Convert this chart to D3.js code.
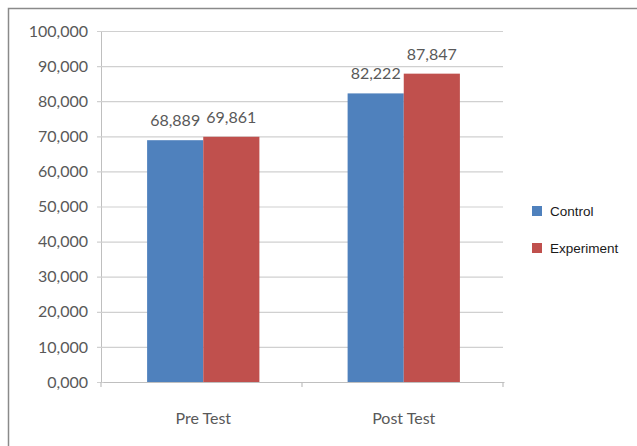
<!DOCTYPE html>
<html>
<head>
<meta charset="utf-8">
<script src="https://cdn.jsdelivr.net/npm/d3@7"></script>
<style>
  html, body { margin: 0; padding: 0; background: #fff; }
  svg { display: block; }
</style>
</head>
<body>
<svg id="chart" width="637" height="446"></svg>
<script>
// Test phases and group scores
const categories = ["Pre Test", "Post Test"];
const seriesNames = ["Control", "Experiment"];
const controlValues = [68.889, 82.222];
const experimentValues = [69.861, 87.847];
const yTicks = [0, 10, 20, 30, 40, 50, 60, 70, 80, 90, 100];
const colors = ["#4f81bd", "#c0504d"];

const seriesValues = [controlValues, experimentValues];

const svg = d3.select("#chart");
const W = 637, H = 446;
const plot = { left: 101, right: 503, top: 31, bottom: 382 };

// Comma as decimal separator, three decimals
const locale = d3.formatLocale({ decimal: ",", thousands: ".", grouping: [3], currency: ["", ""] });
const fmt = locale.format(".3f");

// Chart frame (top and left edges)
svg.append("path")
  .attr("d", `M8.5,${H} V8.5 H${W}`)
  .attr("fill", "none")
  .attr("stroke", "#8a8a8a")
  .attr("stroke-width", 1.5);

const x0 = d3.scaleBand()
  .domain(categories)
  .range([plot.left + 2, plot.right + 1])
  .paddingInner(0.44)
  .paddingOuter(0.22);

const x1 = d3.scaleBand()
  .domain(seriesNames)
  .range([0, x0.bandwidth()]);

const y = d3.scaleLinear()
  .domain([0, 100])
  .range([plot.bottom, plot.top]);

const labelFont = "Lato, 'Open Sans', sans-serif";
const textColor = "#595959";

// Horizontal gridlines and value axis
const yAxis = svg.append("g")
  .attr("transform", `translate(${plot.left},0)`)
  .call(d3.axisLeft(y).tickValues(yTicks).tickFormat(fmt)
    .tickSize(-(plot.right - plot.left)).tickSizeOuter(0).tickPadding(13));
yAxis.select(".domain").attr("stroke", "#bfbfbf").attr("stroke-width", 1);
yAxis.selectAll(".tick line").attr("stroke", "#d0d0d0").attr("stroke-width", 1.2).attr("x1", -4);
yAxis.selectAll(".tick text")
  .attr("fill", textColor)
  .style("font-family", labelFont)
  .style("font-size", "16px");

// Bars
const groups = svg.append("g").selectAll("g")
  .data(categories)
  .join("g")
  .attr("transform", d => `translate(${x0(d)},0)`);

groups.selectAll("rect")
  .data((d, i) => seriesNames.map((s, j) => ({ s, j, v: seriesValues[j][i] })))
  .join("rect")
  .attr("x", d => x1(d.s))
  .attr("y", d => y(d.v))
  .attr("width", x1.bandwidth())
  .attr("height", d => y(0) - y(d.v))
  .attr("fill", d => colors[d.j]);

// Value labels above bars
groups.selectAll("text")
  .data((d, i) => seriesNames.map((s, j) => ({ s, j, v: seriesValues[j][i] })))
  .join("text")
  .attr("x", d => x1(d.s) + x1.bandwidth() / 2)
  .attr("y", d => y(d.v) - 14)
  .attr("text-anchor", "middle")
  .attr("fill", textColor)
  .style("font-family", labelFont)
  .style("font-size", "16px")
  .text(d => fmt(d.v));

// Category axis
const xAxis = svg.append("g")
  .attr("transform", `translate(0,${plot.bottom})`)
  .call(d3.axisBottom(x0).tickSize(0).tickPadding(31));
xAxis.select(".domain").attr("stroke", "#bfbfbf").attr("stroke-width", 1.2);
xAxis.selectAll(".tick text")
  .attr("fill", textColor)
  .style("font-family", labelFont)
  .style("font-size", "16px");

// Category boundary tick marks
const bounds = [plot.left, (plot.left + plot.right) / 2, plot.right];
xAxis.selectAll("line.sep")
  .data(bounds)
  .join("line")
  .attr("class", "sep")
  .attr("x1", d => d).attr("x2", d => d)
  .attr("y1", 0).attr("y2", 5)
  .attr("stroke", "#bfbfbf")
  .attr("stroke-width", 1.2);

// Legend
const legend = svg.append("g").attr("transform", "translate(532,206)");
const items = legend.selectAll("g")
  .data(seriesNames)
  .join("g")
  .attr("transform", (d, i) => `translate(0,${i * 37})`);
items.append("rect")
  .attr("width", 10).attr("height", 10)
  .attr("fill", (d, i) => colors[i]);
items.append("text")
  .attr("x", 18).attr("y", 5)
  .attr("dy", "0.35em")
  .attr("fill", "#1a1a1a")
  .style("font-family", "'Liberation Sans', Arial, sans-serif")
  .style("font-size", "13.5px")
  .text(d => d);
</script>
</body>
</html>
